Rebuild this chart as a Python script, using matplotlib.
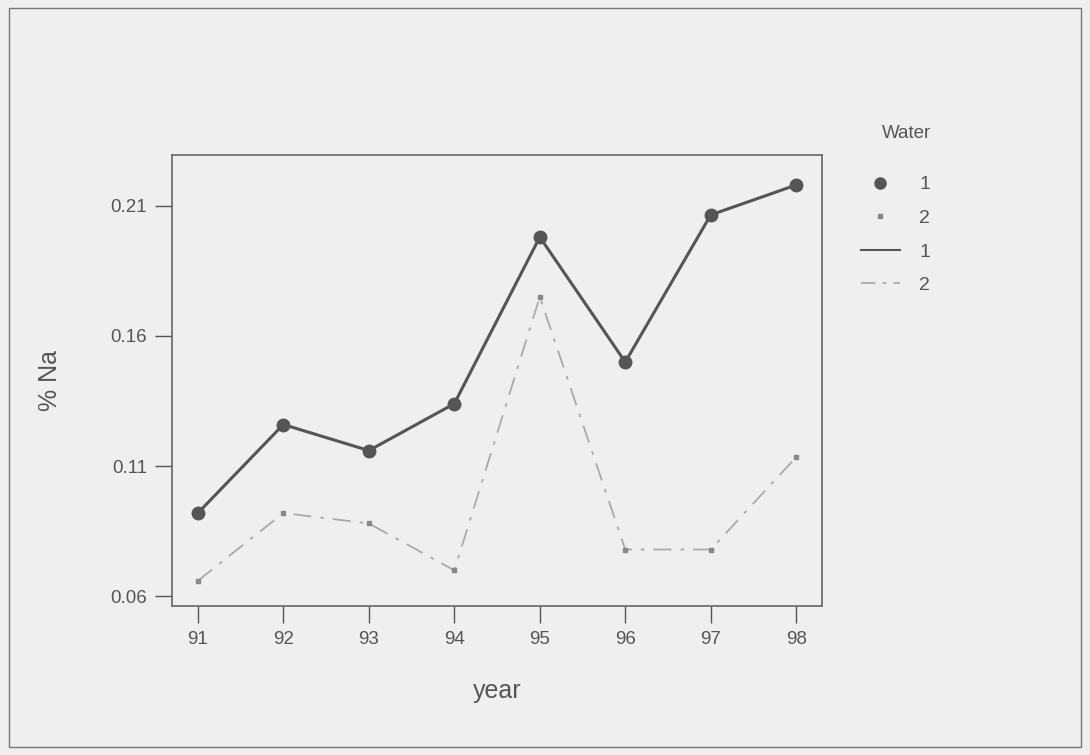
import numpy as np
import matplotlib.pyplot as plt
from matplotlib.lines import Line2D
from matplotlib.patches import Rectangle

years = [91, 92, 93, 94, 95, 96, 97, 98]
water1 = [0.092, 0.126, 0.116, 0.134, 0.198, 0.150, 0.2065, 0.218]
water2 = [0.066, 0.092, 0.088, 0.070, 0.175, 0.078, 0.078, 0.1135]
yticks = [0.06, 0.11, 0.16, 0.21]

plt.rcParams['font.family'] = ['Liberation Sans', 'DejaVu Sans']
bg = '#efefef'
txt = '#555555'
fig = plt.figure(figsize=(10.9, 7.55), dpi=100, facecolor=bg)
fig.patches.append(Rectangle((0.008, 0.01), 0.984, 0.98, transform=fig.transFigure,
                             fill=False, edgecolor='#777777', linewidth=1))
ax = fig.add_axes([0.158, 0.197, 0.596, 0.598])
ax.set_facecolor(bg)

ax.plot(years, water1, color='#555555', linewidth=2.2, solid_capstyle='round')
ax.plot(years, water1, 'o', color='#555555', markersize=9, linestyle='none')
ax.plot(years, water2, color='#aaaaaa', linewidth=1.3, dashes=(10, 5, 2, 5))
ax.plot(years, water2, 's', color='#888888', markersize=2.5, linestyle='none')

ax.set_xlim(90.70, 98.30)
ax.set_ylim(0.0562, 0.2296)
ax.set_xticks(years)
ax.set_xticklabels([str(y) for y in years])
ax.set_yticks(yticks)
ax.set_yticklabels(['0.06', '0.11', '0.16', '0.21'])
ax.tick_params(direction='out', length=12, width=1, colors=txt, labelsize=13.5,
               labelcolor=txt, pad=6)
for s in ax.spines.values():
    s.set_color('#666666')
    s.set_linewidth(1.2)
ax.set_xlabel('year', fontsize=18, color=txt, labelpad=22)
ax.set_ylabel('% Na', fontsize=18, color=txt, labelpad=35)

handles = [
    Line2D([], [], marker='o', color='#555555', markersize=8, linestyle='none'),
    Line2D([], [], marker='s', color='#888888', markersize=2.5, linestyle='none'),
    Line2D([], [], color='#555555', linewidth=1.5),
    Line2D([], [], color='#aaaaaa', linewidth=1.3, dashes=(8, 4, 2, 4)),
]
leg = fig.legend(handles, ['1', '2', '1', '2'], loc='upper left',
                 bbox_to_anchor=(0.781, 0.78), frameon=False, fontsize=14,
                 handlelength=2.0, labelspacing=0.82, borderpad=0, handletextpad=1.0)
for t in leg.get_texts():
    t.set_color(txt)
fig.text(0.832, 1 - 133 / 755, 'Water', fontsize=13.5, color=txt, ha='center', va='center')

fig.savefig('out.png', dpi=100, facecolor=bg)
